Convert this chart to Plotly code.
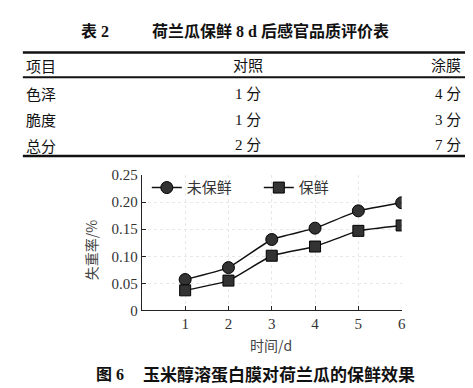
import plotly.graph_objects as go

W, H = 473, 388

# ---- data ----
days = [1, 2, 3, 4, 5, 6]
unpreserved = [0.057, 0.079, 0.131, 0.152, 0.184, 0.199]
preserved = [0.037, 0.055, 0.101, 0.118, 0.147, 0.157]
series_names = ["未保鲜", "保鲜"]
y_ticks = [0, 0.05, 0.10, 0.15, 0.20, 0.25]
y_tick_labels = ["0", "0.05", "0.10", "0.15", "0.20", "0.25"]

table_label = "表 2"
table_title = "荷兰瓜保鲜 8 d 后感官品质评价表"
table_header = ["项目", "对照", "涂膜"]
table_items = ["色泽", "脆度", "总分"]
table_control = ["1 分", "1 分", "2 分"]
table_coating = ["4 分", "3 分", "7 分"]
caption_label = "图 6"
caption = "玉米醇溶蛋白膜对荷兰瓜的保鲜效果"
x_title = "时间/d"
y_title = "失重率/%"

FONT = "Liberation Serif, Noto Sans CJK SC, serif"
SANS = "Noto Sans CJK SC, Liberation Serif"


def px(x):
    return x / W


def py(y):
    return 1 - y / H


fig = go.Figure()
fig.add_trace(go.Scatter(
    x=days, y=unpreserved, name=series_names[0], mode="lines+markers",
    line=dict(color="#111", width=1.4, shape="spline", smoothing=0.4),
    marker=dict(symbol="circle", size=12, color="#333", line=dict(color="#000", width=1)),
))
fig.add_trace(go.Scatter(
    x=days, y=preserved, name=series_names[1], mode="lines+markers",
    line=dict(color="#111", width=1.4, shape="spline", smoothing=0.4),
    marker=dict(symbol="square", size=11, color="#333", line=dict(color="#000", width=1)),
))

x0, x1 = 135, 397
y0, y1 = 166, 307

fig.update_layout(
    width=W, height=H, autosize=False,
    margin=dict(l=0, r=0, t=0, b=0, pad=0),
    paper_bgcolor="white", plot_bgcolor="white",
    showlegend=True,
    legend=dict(orientation="h", x=px(140), y=py(162), xanchor="left", yanchor="top",
                font=dict(family=FONT, size=15, color="#333"),
                bgcolor="rgba(0,0,0,0)", itemwidth=30,
                entrywidthmode="pixels", entrywidth=67),
    font=dict(family=FONT, size=14, color="#222"),
    xaxis=dict(domain=[px(x0), px(x1)], range=[0, 6], tickvals=days,
               ticks="inside", ticklen=4, tickcolor="#222", showline=True,
               linecolor="#222", linewidth=1.2, showgrid=True,
               gridcolor="#e8e8e8", griddash="dot", zeroline=False,
               tickfont=dict(family=FONT, size=15, color="#333")),
    yaxis=dict(domain=[py(y1), py(y0)], range=[0, 0.25], tickvals=y_ticks,
               ticktext=y_tick_labels, ticks="inside", ticklen=4, tickcolor="#222",
               showline=True, linecolor="#222", linewidth=1.2, showgrid=True,
               gridcolor="#e8e8e8", griddash="dot", zeroline=False,
               tickfont=dict(family=FONT, size=15, color="#333")),
)

ann = []


def add_text(text, x, y, xanchor="center", font=None, angle=0):
    ann.append(dict(text=text, x=px(x), y=py(y), xref="paper", yref="paper",
                    xanchor=xanchor, yanchor="middle", showarrow=False,
                    textangle=angle, font=font))


# axis titles
add_text(x_title, 265, 343, font=dict(family=SANS, size=14, color="#444"))
add_text(y_title, 84, 244, font=dict(family=SANS, size=14, color="#444"), angle=-90)
# table title
add_text("<b>" + table_label + "</b>", 72, 16, "left", dict(family=FONT, size=16, color="#111"))
add_text("<b>" + table_title + "</b>", 143, 16, "left", dict(family=FONT, size=16, color="#111"))
# table rows
row_y = [52, 81, 108, 135]
rows = [table_header] + [[a, b, c] for a, b, c in zip(table_items, table_control, table_coating)]
for ry, r in zip(row_y, rows):
    add_text(r[0], 16, ry, "left", dict(family=SANS, size=15, color="#111"))
    add_text(r[1], 242, ry, "center", dict(family=FONT, size=15, color="#111"))
    add_text(r[2], 459, ry, "right", dict(family=FONT, size=15, color="#111"))
# caption
add_text("<b>" + caption_label + "</b>", 87, 374, "left", dict(family=FONT, size=16, color="#111"))
add_text("<b>" + caption + "</b>", 134, 374, "left", dict(family=FONT, size=17, color="#111"))
fig.update_layout(annotations=ann)

# table rules
for yy, w in [(38, 2.5), (64, 2), (146, 2.5)]:
    fig.add_shape(type="line", xref="paper", yref="paper", x0=px(15), x1=px(463),
                  y0=py(yy), y1=py(yy), line=dict(color="#111", width=w))

fig.write_html("out.html")
